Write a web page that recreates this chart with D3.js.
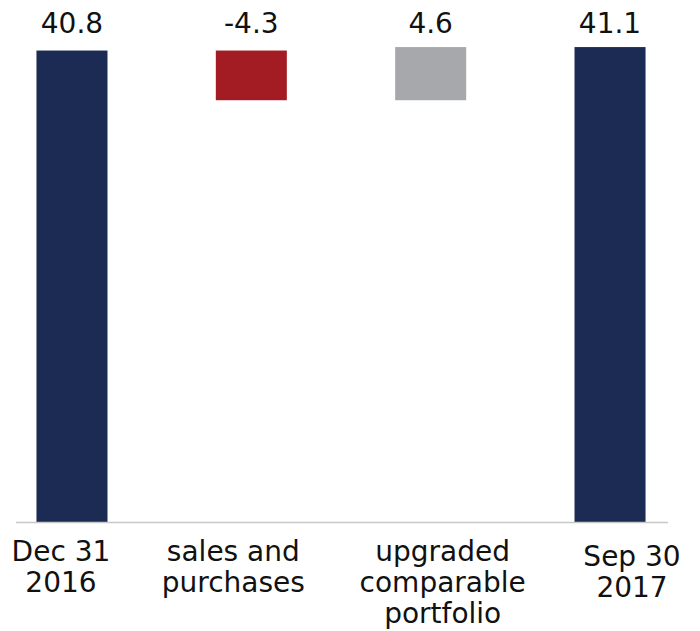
<!DOCTYPE html>
<html>
<head>
<meta charset="utf-8">
<script src="https://cdn.jsdelivr.net/npm/d3@7/dist/d3.min.js"></script>
<style>
  html, body { margin: 0; padding: 0; background: #ffffff; }
  svg { display: block; }
  text { font-family: "DejaVu Sans", Verdana, sans-serif; fill: #111111; }
</style>
</head>
<body>
<svg id="chart" width="700" height="631"></svg>
<script>
// Bridge of the portfolio value, Dec 31 2016 -> Sep 30 2017
const categories = [
  ["Dec 31", "2016"],
  ["sales and", "purchases"],
  ["upgraded", "comparable", "portfolio"],
  ["Sep 30", "2017"]
];
const values = [40.8, -4.3, 4.6, 41.1];
const kinds = ["total", "delta", "delta", "total"];
const valueLabels = ["40.8", "-4.3", "4.6", "41.1"];

// Running totals give each bar its floor and ceiling
let running = 0;
const bars = values.map((v, i) => {
  let lo, hi;
  if (kinds[i] === "total") {
    lo = 0; hi = v; running = v;
  } else {
    const start = running;
    running = start + v;
    lo = Math.min(start, running); hi = Math.max(start, running);
  }
  return { i, v, lo, hi, kind: kinds[i] };
});

const svg = d3.select("#chart");
const baseY = 522;

const x = d3.scaleBand()
  .domain(d3.range(categories.length))
  .range([17, 665])
  .paddingInner(0.604)
  .paddingOuter(0.1085);

const y = d3.scaleLinear()
  .domain([0, 45])
  .range([baseY, 2]);

const colour = d => d.kind === "total" ? "#1b2b53" : (d.v < 0 ? "#a31c24" : "#a7a8ab");

svg.append("g")
  .selectAll("rect")
  .data(bars)
  .join("rect")
  .attr("x", d => x(d.i))
  .attr("width", x.bandwidth())
  .attr("y", d => y(d.hi))
  .attr("height", d => y(d.lo) - y(d.hi))
  .attr("fill", colour);

// Baseline
svg.append("line")
  .attr("x1", 16).attr("x2", 668)
  .attr("y1", baseY + 0.5).attr("y2", baseY + 0.5)
  .attr("stroke", "#c8c8c8")
  .attr("stroke-width", 1.5);

// Value labels along the top
svg.append("g")
  .selectAll("text")
  .data(bars)
  .join("text")
  .attr("x", d => x(d.i) + x.bandwidth() / 2)
  .attr("y", 33)
  .attr("text-anchor", "middle")
  .attr("font-size", 28)
  .text(d => valueLabels[d.i]);

// Category labels under the baseline, with hand-placed nudges
const nudge = [[-11, 0], [-18, 0], [12, 0], [22, 5]];
const cat = svg.append("g")
  .selectAll("text")
  .data(categories)
  .join("text")
  .attr("text-anchor", "middle")
  .attr("font-size", 28)
  .attr("transform", (d, i) =>
    `translate(${x(i) + x.bandwidth() / 2 + nudge[i][0]},${561 + nudge[i][1]})`);

cat.selectAll("tspan")
  .data(d => d)
  .join("tspan")
  .attr("x", 0)
  .attr("y", (d, j) => j * 31)
  .text(d => d);
</script>
</body>
</html>
